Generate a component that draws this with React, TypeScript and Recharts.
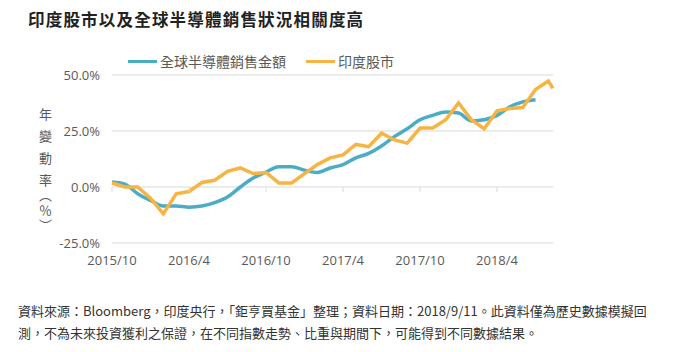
import React from 'react';
import { LineChart, Line, XAxis, YAxis, CartesianGrid } from 'recharts';

// month index from 2015/10 (last point is 2018/9/11)
const monthIndex = [0, 1, 2, 3, 4, 5, 6, 7, 8, 9, 10, 11, 12, 13, 14, 15, 16, 17, 18, 19, 20, 21, 22, 23, 24, 25, 26, 27, 28, 29, 30, 31, 32, 33, 34, 34.35];
const semiSales = [2.2, 1.3, -3, -6, -8.5, -8.5, -9, -8.5, -7, -4.5, 0, 4, 6.7, 9, 9, 7.5, 6.5, 8.5, 10, 13, 15, 18.3, 22.5, 26, 30, 32, 33.5, 33, 29.5, 30, 32, 35.8, 38, 39, null, null];
const indiaStocks = [1.8, 0, 0, -5, -12, -3, -2, 2, 3, 7, 8.5, 6, 6.5, 1.8, 1.8, 6, 10, 13, 14.3, 19, 18, 24, 21, 19.6, 26.3, 26.3, 30, 37.5, 30, 26, 34, 35, 35.5, 43.5, 47.3, 44];

const xTicks = [0, 6, 12, 18, 24, 30];
const xTickLabels = ['2015/10', '2016/4', '2016/10', '2017/4', '2017/10', '2018/4'];
const yTicks = [-25, 0, 25, 50];

const seriesNames = ['全球半導體銷售金額', '印度股市'];
const TEAL = '#4bacc6';
const ORANGE = '#f7b443';

const data = monthIndex.map((m, i) => ({
  m,
  semi: semiSales[i],
  india: indiaStocks[i],
}));

const FONT = "'Open Sans', 'Noto Sans CJK TC', sans-serif";
const CJK = "'Noto Sans CJK TC', sans-serif";

const ZERO_Y = 187;

const XTick = (props: any) => {
  const { x, payload } = props;
  const idx = xTicks.indexOf(payload.value);
  return (
    <g>
      <line x1={x} x2={x} y1={ZERO_Y} y2={ZERO_Y + 5} stroke="#d9d9d9" />
      <text x={x} y={265} textAnchor="middle" fontSize={13} fill="#595959" fontFamily={FONT}>
        {xTickLabels[idx]}
      </text>
    </g>
  );
};

const App: React.FC = () => {
  return (
    <div style={{ position: 'absolute', left: 0, top: 0, width: 680, height: 352, background: '#fff', fontFamily: CJK }}>
      <div style={{ position: 'absolute', left: 28, top: 7, fontSize: 16.5, letterSpacing: 1.2, fontWeight: 'bold', color: '#222' }}>
        印度股市以及全球半導體銷售狀況相關度高
      </div>

      <div style={{ position: 'absolute', left: 128, top: 51, display: 'flex', alignItems: 'center', fontSize: 14, color: '#595959' }}>
        <span style={{ display: 'inline-block', width: 29, height: 3, background: TEAL, marginRight: 3 }} />
        <span style={{ marginRight: 20 }}>{seriesNames[0]}</span>
        <span style={{ display: 'inline-block', width: 29, height: 3, background: ORANGE, marginRight: 3 }} />
        <span>{seriesNames[1]}</span>
      </div>

      <div style={{ position: 'absolute', left: 36, top: 108, writingMode: 'vertical-rl', fontSize: 13, lineHeight: '18px', color: '#595959' }}>
        <span style={{ letterSpacing: 9 }}>年變動</span>
        <span style={{ letterSpacing: 2 }}>率（％）</span>
      </div>

      <div style={{ position: 'absolute', left: 0, top: 0 }}>
        <LineChart width={680} height={352} data={data} margin={{ top: 75, right: 127, bottom: 79, left: 52 }}>
          <CartesianGrid vertical={false} stroke="#d9d9d9" />
          <XAxis
            dataKey="m"
            type="number"
            domain={[0, 34.36]}
            ticks={xTicks}
            axisLine={false}
            tickLine={false}
            tick={<XTick />}
            interval={0}
          />
          <YAxis
            domain={[-25, 50]}
            ticks={yTicks}
            width={60}
            axisLine={false}
            tickLine={false}
            tickMargin={6}
            tickFormatter={(v: number) => `${v.toFixed(1)}%`}
            tick={{ fontSize: 13, fill: '#595959', fontFamily: FONT }}
          />
          <Line type="monotone" dataKey="semi" stroke={TEAL} strokeWidth={3.5} dot={false} isAnimationActive={false} connectNulls={false} />
          <Line type="linear" dataKey="india" stroke={ORANGE} strokeWidth={3.5} dot={false} isAnimationActive={false} strokeLinejoin="miter" />
        </LineChart>
      </div>

      <div style={{ position: 'absolute', left: 18, top: 300, fontSize: 13, lineHeight: '22px', color: '#333', whiteSpace: 'nowrap' }}>
        資料來源：Bloomberg，印度央行，「鉅亨買基金」整理；資料日期：2018/9/11。此資料僅為歷史數據模擬回
        <br />
        測，不為未來投資獲利之保證，在不同指數走勢、比重與期間下，可能得到不同數據結果。
      </div>
    </div>
  );
};

export default App;
